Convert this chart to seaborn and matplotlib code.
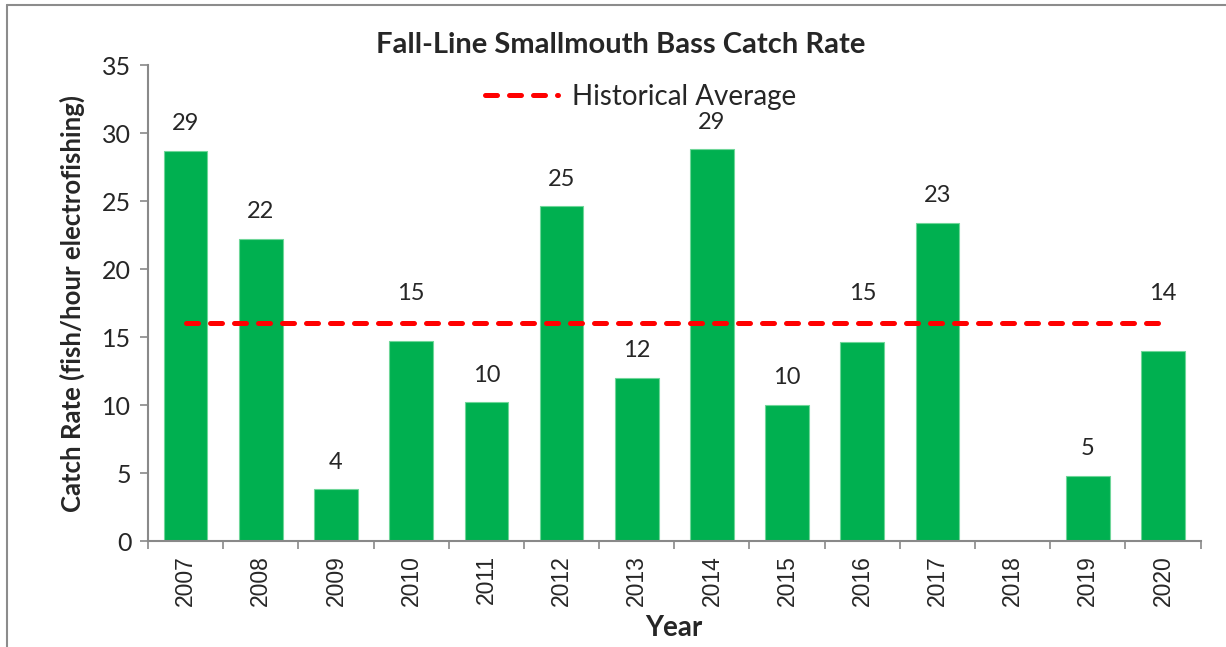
import numpy as np
import pandas as pd
import matplotlib
matplotlib.use("Agg")
import matplotlib.pyplot as plt
from matplotlib.lines import Line2D
import seaborn as sns

# data
years = ["2007", "2008", "2009", "2010", "2011", "2012", "2013",
         "2014", "2015", "2016", "2017", "2018", "2019", "2020"]
catch_rate = [28.7, 22.2, 3.8, 14.7, 10.2, 24.6, 12.0,
              28.8, 10.0, 14.6, 23.4, np.nan, 4.8, 14.0]
hist_avg = 16.0

sns.set_style("white")
plt.rcParams['font.family'] = ['Lato', 'DejaVu Sans']

df = pd.DataFrame({"Year": years, "Rate": catch_rate})

fig = plt.figure(figsize=(12.26, 6.47), dpi=100)
ax = fig.add_axes([0.1207, 0.1638, 0.8586, 0.7357])

sns.barplot(data=df, x="Year", y="Rate", color="#00B050", saturation=1,
            width=0.58, edgecolor="#6fd699", linewidth=0.8, ax=ax)

# historical average line, from first to last category
ax.plot([0, len(years) - 1], [hist_avg, hist_avg], color="#FF0000",
        lw=3.6, ls=(0, (2.4, 2.4)), dash_capstyle="round",
        label="Historical Average", zorder=3)

# value labels (moved above the average line where they would collide)
for i, v in enumerate(catch_rate):
    if np.isnan(v):
        continue
    y = v + 2.0
    if abs(v - hist_avg) < 3:
        y = hist_avg + 2.2
    ax.text(i, y, f"{round(v):d}", ha="center", va="center", fontsize=17)

ax.set_ylim(0, 35)
ax.set_xlim(-0.5, len(years) - 0.5)
ax.set_yticks(range(0, 36, 5))
ax.tick_params(axis="y", labelsize=18, length=6, width=1.2,
               color="#898989", direction="out", left=True, pad=6)
ax.tick_params(axis="x", which="major", length=0, labelsize=16.5,
               labelrotation=90, pad=10)
ax.set_xticks(np.arange(-0.5, len(years), 1), minor=True)
ax.tick_params(axis="x", which="minor", length=6, width=1.2,
               color="#898989", direction="out", bottom=True)
for lbl in ax.get_xticklabels():
    lbl.set_family(['Liberation Sans', 'DejaVu Sans'])

for s in ["top", "right"]:
    ax.spines[s].set_visible(False)
for s in ["left", "bottom"]:
    ax.spines[s].set_color("#898989")
    ax.spines[s].set_linewidth(1.5)

ax.set_xlabel("Year", fontsize=20, fontweight="bold", va="center")
ax.set_ylabel("Catch Rate (fish/hour electrofishing)", fontsize=18.5,
              fontweight="bold", va="center")
ax.xaxis.set_label_coords(0.5, -0.183)
ax.yaxis.set_label_coords(-0.072, 0.5)

fig.suptitle("Fall-Line Smallmouth Bass Catch Rate", x=0.506, y=1 - 45 / 647,
             va="center", fontsize=21, fontweight="bold")

leg = ax.legend(loc="center", bbox_to_anchor=(0.468, 1 - (97 - 65) / 476),
                frameon=False, fontsize=20, handlelength=2.6,
                handletextpad=0.5)

# outer chart border (left and top visible in the reference)
fig.add_artist(Line2D([7 / 1226, 7 / 1226], [0, 1 - 5 / 647],
                      color="#8c8c8c", lw=1.5, transform=fig.transFigure))
fig.add_artist(Line2D([7 / 1226, 1], [1 - 5 / 647, 1 - 5 / 647],
                      color="#8c8c8c", lw=1.5, transform=fig.transFigure))

fig.savefig("out.png", dpi=100)
